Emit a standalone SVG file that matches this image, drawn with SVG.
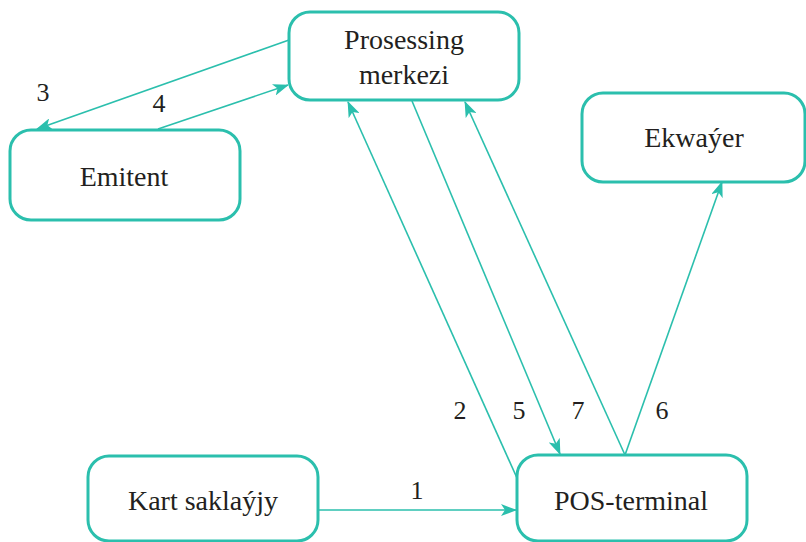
<svg xmlns="http://www.w3.org/2000/svg" width="806" height="542" viewBox="0 0 806 542">
<style>
.box{fill:#fff;stroke:#2bbfad;stroke-width:3}
.lbl{font-family:"Liberation Serif","Times New Roman",serif;font-size:28px;fill:#231f20;text-anchor:middle}
.num{font-family:"Liberation Serif","Times New Roman",serif;font-size:26px;fill:#231f20;text-anchor:middle}
.con{stroke:#2bbfad;stroke-width:1.6;fill:none;marker-end:url(#ah)}
</style>
<defs>
<marker id="ah" viewBox="0 0 16 12" refX="15" refY="6" markerWidth="16" markerHeight="12" markerUnits="userSpaceOnUse" orient="auto">
<path d="M0,0 L16,6 L0,12 L4,6 Z" fill="#2bbfad"/>
</marker>
</defs>
<rect width="806" height="542" fill="#fff"/>
<g id="connectors">
<line class="con" x1="289" y1="40" x2="37" y2="129"/>
<line class="con" x1="158" y1="129" x2="288" y2="85"/>
<line class="con" x1="517" y1="478" x2="348" y2="102"/>
<line class="con" x1="412" y1="101" x2="560" y2="454"/>
<line class="con" x1="625" y1="455" x2="465" y2="102"/>
<line class="con" x1="625" y1="455" x2="722" y2="182"/>
<line class="con" x1="318" y1="510" x2="516" y2="510"/>
</g>
<g id="labels">
<text class="num" x="43" y="101">3</text>
<text class="num" x="159" y="112">4</text>
<text class="num" x="460" y="419">2</text>
<text class="num" x="519" y="419">5</text>
<text class="num" x="578" y="419">7</text>
<text class="num" x="662" y="419">6</text>
<text class="num" x="417" y="499">1</text>
</g>
<g id="node-prosessing">
<rect class="box" x="289" y="12" width="230" height="88" rx="21"/>
<text class="lbl" x="404" y="49">Prosessing</text>
<text class="lbl" x="404" y="84">merkezi</text>
</g>
<g id="node-emitent">
<rect class="box" x="10" y="130" width="230" height="90" rx="21"/>
<text class="lbl" x="124" y="186">Emitent</text>
</g>
<g id="node-ekwayer">
<rect class="box" x="582" y="93" width="223" height="89" rx="21"/>
<text class="lbl" x="694" y="147">Ekwaýer</text>
</g>
<g id="node-kart">
<rect class="box" x="88" y="456" width="230" height="85" rx="21"/>
<text class="lbl" x="203" y="510">Kart saklaýjy</text>
</g>
<g id="node-pos">
<rect class="box" x="517" y="455" width="230" height="86" rx="21"/>
<text class="lbl" x="631" y="510">POS-terminal</text>
</g>
</svg>
